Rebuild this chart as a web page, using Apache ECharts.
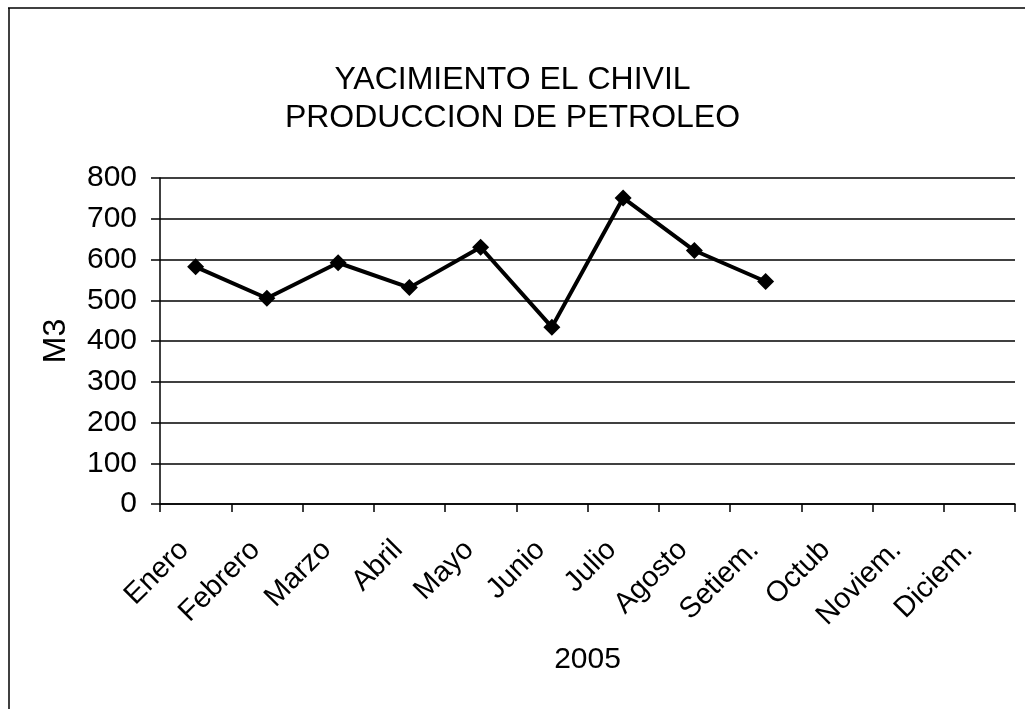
<!DOCTYPE html>
<html>
<head>
<meta charset="utf-8">
<title>Yacimiento El Chivil</title>
<script src="https://cdn.jsdelivr.net/npm/echarts@6/dist/echarts.min.js"></script>
<style>
  html, body { margin: 0; padding: 0; background: #fff; }
  #main { width: 1025px; height: 709px; }
</style>
</head>
<body>
<div id="main"></div>
<script>
// meses 2005
const months = ['Enero', 'Febrero', 'Marzo', 'Abril', 'Mayo', 'Junio', 'Julio', 'Agosto', 'Setiem.', 'Octub', 'Noviem.', 'Diciem.'];
// produccion m3 (solo hasta setiembre)
const production = [582, 505, 592, 531, 630, 434, 751, 622, 546];
const yTicks = { min: 0, max: 800, step: 100 };

const FONT = "'Liberation Sans', Arial, sans-serif";

let myChart = echarts.init(document.getElementById('main'));
myChart.setOption({
    backgroundColor: '#fff',
    animation: false,
    title: {
        text: 'YACIMIENTO EL CHIVIL\nPRODUCCION DE PETROLEO',
        left: 'center',
        top: 56,
        textStyle: {
            fontFamily: FONT,
            fontSize: 32,
            fontWeight: 'normal',
            color: '#000',
            lineHeight: 38
        }
    },
    graphic: [
        { type: 'line', shape: { x1: 8, y1: 8, x2: 1025, y2: 8 }, style: { stroke: '#000', lineWidth: 1.5 } },
        { type: 'line', shape: { x1: 9, y1: 8, x2: 9, y2: 709 }, style: { stroke: '#000', lineWidth: 1.5 } }
    ],
    grid: {
        left: 160,
        right: 10,
        top: 178,
        bottom: 205
    },
    xAxis: {
        type: 'category',
        data: months,
        boundaryGap: true,
        name: '2005',
        nameLocation: 'middle',
        nameGap: 141,
        nameTextStyle: { fontFamily: FONT, fontSize: 30, color: '#000' },
        axisLine: { lineStyle: { color: '#000', width: 1.5 } },
        axisTick: { show: true, length: 8, lineStyle: { color: '#000', width: 1.5 } },
        axisLabel: {
            interval: 0,
            rotate: 45,
            margin: 30,
            padding: [0, 16, 0, 0],
            fontFamily: FONT,
            fontSize: 29,
            color: '#000'
        }
    },
    yAxis: {
        type: 'value',
        min: yTicks.min,
        max: yTicks.max,
        interval: yTicks.step,
        name: 'M3',
        nameLocation: 'middle',
        nameGap: 88,
        nameTextStyle: { fontFamily: FONT, fontSize: 32, color: '#000' },
        axisLine: { show: true, lineStyle: { color: '#000', width: 1.5 } },
        axisTick: { show: true, length: 9, lineStyle: { color: '#000', width: 1.5 } },
        axisLabel: { margin: 23, fontFamily: FONT, fontSize: 30, color: '#000' },
        splitLine: { lineStyle: { color: '#000', width: 1.5 } }
    },
    series: [{
        name: 'Produccion',
        type: 'line',
        data: production,
        symbol: 'diamond',
        symbolSize: 17,
        lineStyle: { color: '#000', width: 4 },
        itemStyle: { color: '#000' }
    }]
});
</script>
</body>
</html>
